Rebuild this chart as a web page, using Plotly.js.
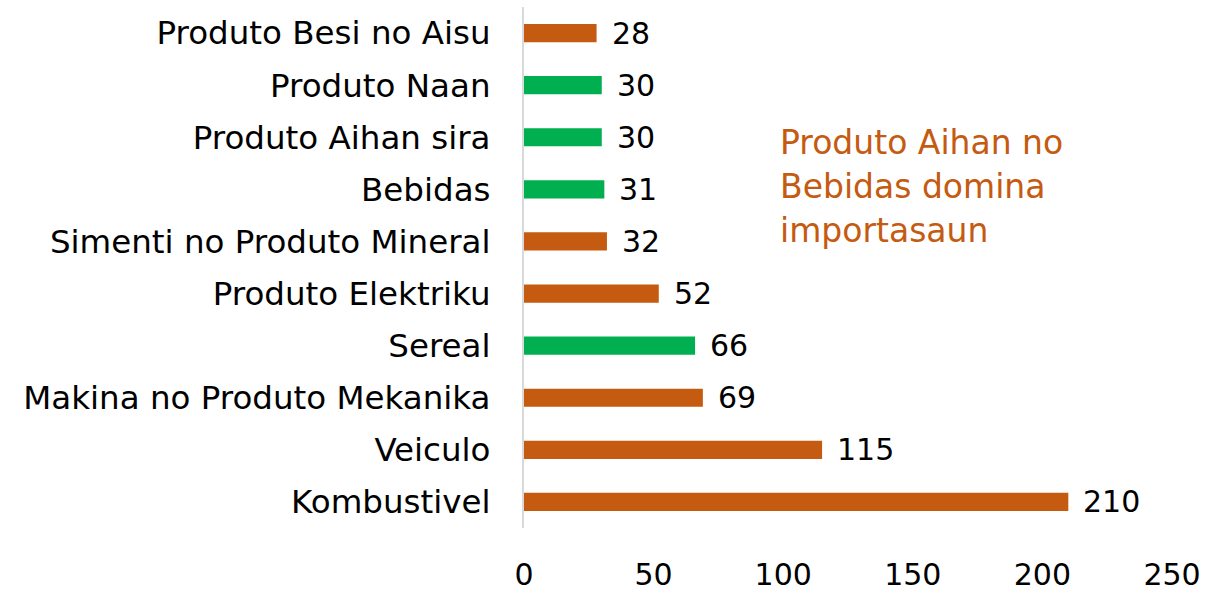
<!DOCTYPE html>
<html><head><meta charset="utf-8">
<script src="https://cdn.plot.ly/plotly-3.0.1.min.js"></script>
<style>html,body{margin:0;padding:0;background:#fff}#chart{width:1206px;height:592px}</style>
</head><body><div id="chart"></div>
<script>
const categories = ["Kombustivel","Veiculo","Makina no Produto Mekanika","Sereal","Produto Elektriku","Simenti no Produto Mineral","Bebidas","Produto Aihan sira","Produto Naan","Produto Besi no Aisu"];
const values = [210,115,69,66,52,32,31,30,30,28];
const groups = ["other","other","other","food","other","other","food","food","food","other"];
const colorMap = {other:"#C55A11", food:"#00B050"};
const tickVals = [0,50,100,150,200,250];
const noteLines = ["Produto Aihan no","Bebidas domina","importasaun"];

const FONT = "'DejaVu Sans', sans-serif";
const FS = 30, FS_CAT = 32.5, FS_NOTE = 33;
const trace = {
  type:"bar", orientation:"h",
  y: categories, x: values,
  marker:{color: groups.map(g=>colorMap[g])},
  width: 0.35,
  hoverinfo:"skip"
};
const annotations = values.map((v,i)=>({
  x:v, y:categories[i], xref:"x", yref:"y",
  text:String(v), showarrow:false, xanchor:"left", xshift:13,
  font:{family:FONT,size:FS,color:"#000"}
}));
const plotTop = 7, plotH = 521;
const lineY = [142, 186, 230];
noteLines.forEach((t,i)=>annotations.push({
  xref:"paper", yref:"paper", x:(778-524)/648, y:1-(lineY[i]-plotTop)/plotH,
  xanchor:"left", yanchor:"middle", align:"left", showarrow:false,
  text: t,
  font:{family:FONT,size:FS_NOTE,color:"#C55A11"}
}));
const layout = {
  width:1206, height:592,
  margin:{l:524, r:34, t:plotTop, b:592-plotTop-plotH, pad:0},
  paper_bgcolor:"#fff", plot_bgcolor:"#fff",
  showlegend:false,
  font:{family:FONT,size:FS,color:"#000"},
  xaxis:{range:[0,250], tickvals:tickVals, showgrid:false, zeroline:false, showline:false,
         ticks:"", ticklabelstandoff:26, tickfont:{size:FS,color:"#000"}, fixedrange:true},
  yaxis:{type:"category", showgrid:false, zeroline:false, showline:true, linecolor:"#d9d9d9", linewidth:2,
         ticks:"", ticklabelstandoff:25, tickfont:{size:FS_CAT,color:"#000"}, fixedrange:true},
  annotations: annotations
};
Plotly.newPlot("chart",[trace],layout,{displayModeBar:false,staticPlot:true});
</script></body></html>
